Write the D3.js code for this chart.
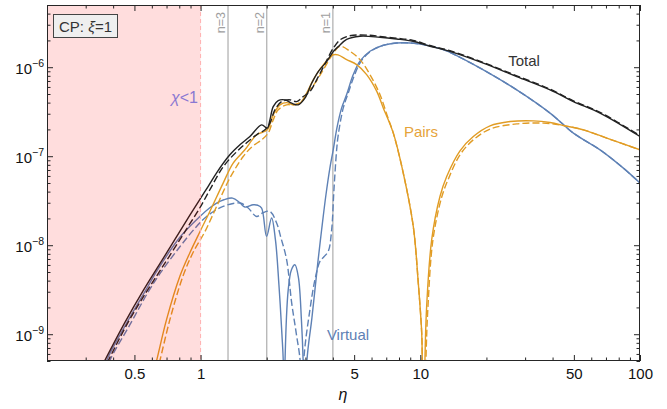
<!DOCTYPE html>
<html><head><meta charset="utf-8">
<script src="https://cdn.jsdelivr.net/npm/d3@7"></script>
<style>body{margin:0;background:#fff}text{font-family:"Liberation Sans",Arial,sans-serif}</style>
</head><body><svg id="c" width="667" height="409"></svg>
<script>
// ---- data (η, value) ----
const totalSolidEta = [0.348,0.452,0.548,0.653,0.778,0.894,0.993,1.080,1.183,1.359,1.510,1.677,1.896,2.011,2.068,2.141,2.256,2.421,2.597,2.782,2.985,3.203,3.432,3.749,4.016,4.233,4.622,5.314,6.553,7.806,9.265,11.07,13.65,19.36,27.48,38.96,49.75,65.8,100];
const totalSolidVal = [3.95e-10,1.349e-9,3.085e-9,6.20e-9,1.246e-8,2.172e-8,3.28e-8,4.53e-8,6.51e-8,1.037e-7,1.342e-7,1.664e-7,2.25e-7,2.067e-7,2.56e-7,3.61e-7,4.22e-7,4.30e-7,3.94e-7,3.78e-7,4.49e-7,6.61e-7,8.93e-7,1.156e-6,1.497e-6,1.703e-6,2.051e-6,2.228e-6,2.171e-6,2.078e-6,1.958e-6,1.721e-6,1.504e-6,1.109e-6,7.84e-7,5.56e-7,4.11e-7,3.05e-7,1.664e-7];

const totalDashEta = [0.359,0.467,0.568,0.674,0.805,0.894,0.993,1.102,1.267,1.458,1.620,1.823,1.963,2.068,2.179,2.338,2.551,2.736,2.933,3.146,3.375,3.681,4.016,4.308,4.622,4.954,5.902,6.553,7.806,9.265,11.07,13.65,19.36,27.48,38.96,49.75,65.8,100];
const totalDashVal = [3.80e-10,1.349e-9,3.006e-9,5.81e-9,1.153e-8,1.743e-8,2.636e-8,4.20e-8,7.60e-8,1.12e-7,1.414e-7,1.784e-7,1.978e-7,2.352e-7,3.32e-7,4.11e-7,4.30e-7,4.11e-7,4.68e-7,5.32e-7,7.20e-7,1.089e-6,1.634e-6,2.025e-6,2.205e-6,2.287e-6,2.287e-6,2.217e-6,2.12e-6,2.0e-6,1.755e-6,1.534e-6,1.13e-6,8.0e-7,5.67e-7,4.19e-7,3.11e-7,1.70e-7];

const pairsSolidEta = [0.611,0.631,0.700,0.805,0.894,0.993,1.102,1.267,1.407,1.591,1.799,2.011,2.141,2.297,2.464,2.641,2.833,3.039,3.257,3.616,4.016,4.219,4.622,5.134,5.70,6.331,6.785,7.538,8.367,9.292,9.792,10.15,10.21,10.35,10.50,10.69,11.27,12.29,13.19,15.16,17.43,20.77,25.62,32.71,38.96,45.6,55.25,70.6,100];
const pairsSolidVal = [3.71e-10,5.06e-10,1.458e-9,4.47e-9,8.23e-9,1.417e-8,2.395e-8,4.99e-8,8.37e-8,1.18e-7,1.739e-7,1.978e-7,2.914e-7,3.776e-7,4.005e-7,3.776e-7,3.945e-7,5.11e-7,7.20e-7,1.061e-6,1.374e-6,1.374e-6,1.217e-6,1.07e-6,8.26e-7,5.38e-7,3.49e-7,1.816e-7,6.46e-8,1.626e-8,3.77e-9,1.034e-9,5.06e-10,1e-11,5.06e-10,2.056e-9,1.153e-8,3.53e-8,5.92e-8,1.15e-7,1.664e-7,2.194e-7,2.452e-7,2.497e-7,2.389e-7,2.194e-7,1.978e-7,1.596e-7,1.18e-7];

const pairsDashEta = [0.632,0.653,0.725,0.831,0.923,1.046,1.183,1.359,1.563,1.712,1.896,2.031,2.141,2.256,2.464,2.641,2.884,3.090,3.316,3.616,4.016,4.308,4.785,5.314,5.902,6.553,7.126,7.538,8.367,9.292,9.792,10.15,10.21,10.38,10.61,10.84,11.42,12.49,13.37,15.16,17.43,20.77,27.48,36.32,45.6,55.25,70.6,100];
const pairsDashVal = [3.71e-10,5.06e-10,1.458e-9,4.47e-9,8.23e-9,1.417e-8,2.726e-8,5.68e-8,9.92e-8,1.274e-7,1.528e-7,1.816e-7,2.56e-7,3.32e-7,3.776e-7,3.776e-7,4.11e-7,5.32e-7,6.61e-7,9.33e-7,1.436e-6,1.721e-6,1.512e-6,1.217e-6,8.26e-7,4.93e-7,2.70e-7,1.816e-7,6.46e-8,1.626e-8,3.77e-9,1.034e-9,5.06e-10,1e-11,5.06e-10,2.056e-9,1.153e-8,3.41e-8,5.43e-8,1.037e-7,1.528e-7,2.015e-7,2.31e-7,2.352e-7,2.194e-7,1.978e-7,1.596e-7,1.18e-7];

const virtualSolidEta = [0.363,0.374,0.462,0.558,0.632,0.805,0.993,1.102,1.183,1.277,1.398,1.510,1.591,1.735,1.823,1.896,1.997,2.105,2.191,2.273,2.346,2.382,2.403,2.421,2.506,2.592,2.688,2.789,2.877,2.933,2.985,3.039,3.213,3.421,3.556,3.721,3.879,4.016,4.175,4.386,4.622,4.954,5.314,5.902,6.785,7.806,8.978,10.32,12.73,13.65,19.36,27.48,38.96,49.75,65.8,84.03,100];
const virtualSolidVal = [3.80e-10,5.06e-10,1.349e-9,3.006e-9,5.11e-9,1.23e-8,2.104e-8,2.636e-8,2.976e-8,3.24e-8,3.385e-8,3.00e-8,2.684e-8,2.848e-8,2.81e-8,2.615e-8,1.256e-8,2.019e-8,1.153e-8,3.60e-9,9.90e-10,4.56e-10,1e-11,4.56e-10,3.166e-9,5.31e-9,6.04e-9,4.32e-9,1.458e-9,4.56e-10,1e-11,4.56e-10,1.535e-9,6.53e-9,1.493e-8,3.69e-8,7.41e-8,1.18e-7,2.083e-7,3.49e-7,4.93e-7,8.26e-7,1.168e-6,1.512e-6,1.766e-6,1.874e-6,1.874e-6,1.794e-6,1.576e-6,1.466e-6,9.33e-7,5.56e-7,3.05e-7,1.816e-7,1.18e-7,7.35e-8,4.99e-8];

const virtualDashEta = [0.371,0.386,0.477,0.575,0.653,0.805,0.959,1.065,1.267,1.510,1.642,1.799,1.922,2.068,2.219,2.321,2.464,2.597,2.731,2.848,2.893,2.939,3.146,3.316,3.493,3.643,3.812,3.950,4.046,4.162,4.233,4.461,4.687,5.041,5.427,6.027,6.906,7.806,8.978,10.32,12.73,13.65,19.36,27.48,38.96,49.75,65.8,84.03,100];
const virtualDashVal = [3.80e-10,5.06e-10,1.281e-9,2.93e-9,4.79e-9,9.62e-9,1.626e-8,2.104e-8,2.726e-8,2.976e-8,2.636e-8,2.104e-8,2.316e-8,2.395e-8,1.775e-8,1.214e-8,6.88e-9,2.263e-9,9.90e-10,4.56e-10,1e-11,4.56e-10,1.888e-9,4.10e-9,6.58e-9,7.43e-9,8.52e-9,1.493e-8,4.20e-8,1.18e-7,1.739e-7,3.49e-7,5.02e-7,8.41e-7,1.207e-6,1.544e-6,1.780e-6,1.874e-6,1.874e-6,1.794e-6,1.576e-6,1.466e-6,9.33e-7,5.56e-7,3.05e-7,1.816e-7,1.18e-7,7.35e-8,4.99e-8];

// thresholds
const nEta = [4/3, 2, 4];
const nLabels = ["n=3", "n=2", "n=1"];
const chiBoundary = 1;

// ticks
const xMajor = [0.5, 1, 5, 10, 50, 100];
const xTickLabels = ["0.5", "1", "5", "10", "50", "100"];
const xMinor = [0.2,0.3,0.4,0.6,0.7,0.8,0.9,2,3,4,6,7,8,9,20,30,40,60,70,80,90];
const yMajor = [1e-9, 1e-8, 1e-7, 1e-6];
const yTickExp = ["−9", "−8", "−7", "−6"];
const yMinor = [];
[-10,-9,-8,-7,-6].forEach(e => [2,3,4,5,6,7,8,9].forEach(m => { const v = m*Math.pow(10,e); if (v >= 5e-10 && v <= 5e-6) yMinor.push(v); }));

// ---- layout ----
const L = 47, R = 640, T = 5, B = 361;
const x = d3.scaleLog().domain([0.2, 100]).range([L, R]);
const y = d3.scaleLog().domain([5e-10, 5e-6]).range([B, T]);
const svg = d3.select('#c');

svg.append('defs').append('clipPath').attr('id', 'clip')
  .append('rect').attr('x', L).attr('y', T).attr('width', R - L).attr('height', B - T);
const plot = svg.append('g').attr('clip-path', 'url(#clip)');

// n lines
plot.selectAll('line.n').data(nEta).join('line').attr('class', 'n')
  .attr('x1', d => x(d)).attr('x2', d => x(d)).attr('y1', T).attr('y2', B)
  .attr('stroke', '#b9b9b9').attr('stroke-width', 1.4);

const zip = (a, b) => a.slice(0, Math.min(a.length, b.length)).map((v, i) => [v, b[i]]);
const line = d3.line().x(d => x(d[0])).y(d => y(d[1])).curve(d3.curveCatmullRom.alpha(0.5));

const BLUE = '#5E81B5', ORANGE = '#E19C24', BLACK = '#222222';
const series = [
  {e: virtualDashEta, v: virtualDashVal, c: BLUE, dash: true},
  {e: virtualSolidEta, v: virtualSolidVal, c: BLUE, dash: false},
  {e: pairsDashEta, v: pairsDashVal, c: ORANGE, dash: true},
  {e: pairsSolidEta, v: pairsSolidVal, c: ORANGE, dash: false},
  {e: totalDashEta, v: totalDashVal, c: BLACK, dash: true},
  {e: totalSolidEta, v: totalSolidVal, c: BLACK, dash: false},
];
series.forEach(s => {
  plot.append('path').datum(zip(s.e, s.v)).attr('d', line)
    .attr('fill', 'none').attr('stroke', s.c).attr('stroke-width', 1.4)
    .attr('stroke-linejoin', 'round')
    .attr('stroke-dasharray', s.dash ? '7,3' : null);
});

// chi<1 overlay
plot.append('rect').attr('x', x(0.2)).attr('y', T).attr('width', x(chiBoundary) - x(0.2)).attr('height', B - T)
  .attr('fill', 'rgb(255,0,0)').attr('fill-opacity', 0.135);
plot.append('line').attr('x1', x(chiBoundary)).attr('x2', x(chiBoundary)).attr('y1', T).attr('y2', B)
  .attr('stroke', '#ffb0b0').attr('stroke-width', 1).attr('stroke-dasharray', '4,3');

// n labels
nEta.forEach((d, i) => {
  svg.append('text').attr('transform', `translate(${x(d) - 3},12) rotate(-90)`)
    .attr('text-anchor', 'end').attr('font-size', 12.5).attr('fill', '#a0a0a0').text(nLabels[i]);
});

// axes
const tickColor = '#262626';
function styleAxis(g) { g.select('.domain').remove(); g.selectAll('line').attr('stroke', tickColor); }
svg.append('g').attr('transform', `translate(0,${B})`)
  .call(d3.axisBottom(x).tickValues(xMajor).tickSize(-6).tickPadding(7).tickFormat((d, i) => xTickLabels[i]))
  .call(styleAxis)
  .call(g => g.selectAll('text').attr('font-size', 15).attr('fill', '#111').attr('font-family', '"Liberation Sans",Arial,sans-serif'));
svg.append('g').attr('transform', `translate(0,${B})`).call(d3.axisBottom(x).tickValues(xMinor).tickSize(-3.5).tickFormat('')).call(styleAxis);
svg.append('g').attr('transform', `translate(0,${T})`).call(d3.axisTop(x).tickValues(xMajor).tickSize(-6).tickFormat('')).call(styleAxis);
svg.append('g').attr('transform', `translate(0,${T})`).call(d3.axisTop(x).tickValues(xMinor).tickSize(-3.5).tickFormat('')).call(styleAxis);
svg.append('g').attr('transform', `translate(${L},0)`).call(d3.axisLeft(y).tickValues(yMajor).tickSize(-6).tickFormat('')).call(styleAxis);
svg.append('g').attr('transform', `translate(${L},0)`).call(d3.axisLeft(y).tickValues(yMinor).tickSize(-3.5).tickFormat('')).call(styleAxis);
svg.append('g').attr('transform', `translate(${R},0)`).call(d3.axisRight(y).tickValues(yMajor).tickSize(-6).tickFormat('')).call(styleAxis);
svg.append('g').attr('transform', `translate(${R},0)`).call(d3.axisRight(y).tickValues(yMinor).tickSize(-3.5).tickFormat('')).call(styleAxis);

yMajor.forEach((v, i) => {
  const t = svg.append('text').attr('x', 44).attr('y', y(v) + 6.5).attr('text-anchor', 'end').attr('font-size', 15).attr('fill', '#111');
  t.append('tspan').text('10');
  t.append('tspan').attr('dy', -7).attr('font-size', 10.5).text(yTickExp[i]);
});

// frame
svg.append('rect').attr('x', L + 0.5).attr('y', T + 0.5).attr('width', R - L - 1).attr('height', B - T - 1)
  .attr('fill', 'none').attr('stroke', tickColor).attr('stroke-width', 1);

// axis label
svg.append('text').attr('x', 343).attr('y', 400).attr('text-anchor', 'middle').attr('font-size', 16)
  .attr('font-style', 'italic').attr('fill', '#111').text('η');

// legend box
svg.append('rect').attr('x', 53.5).attr('y', 14.5).attr('width', 64).attr('height', 23)
  .attr('fill', '#efefef').attr('stroke', '#444').attr('stroke-width', 1);
const lt = svg.append('text').attr('x', 85.5).attr('y', 31.5).attr('text-anchor', 'middle').attr('font-size', 15).attr('fill', '#333');
lt.append('tspan').text('CP: ');
lt.append('tspan').attr('font-style', 'italic').text('ξ');
lt.append('tspan').text('=1');

// chi label
const ct = svg.append('text').attr('x', 198).attr('y', 103).attr('text-anchor', 'end').attr('font-size', 16).attr('fill', '#8a78d2');
ct.append('tspan').attr('font-style', 'italic').text('χ');
ct.append('tspan').text('<1');

// series labels
svg.append('text').attr('x', 524).attr('y', 66).attr('text-anchor', 'middle').attr('font-size', 15).attr('fill', '#333').text('Total');
svg.append('text').attr('x', 421).attr('y', 137).attr('text-anchor', 'middle').attr('font-size', 15).attr('fill', '#E6A33A').text('Pairs');
svg.append('text').attr('x', 348).attr('y', 340).attr('text-anchor', 'middle').attr('font-size', 15).attr('fill', BLUE).text('Virtual');
</script></body></html>
